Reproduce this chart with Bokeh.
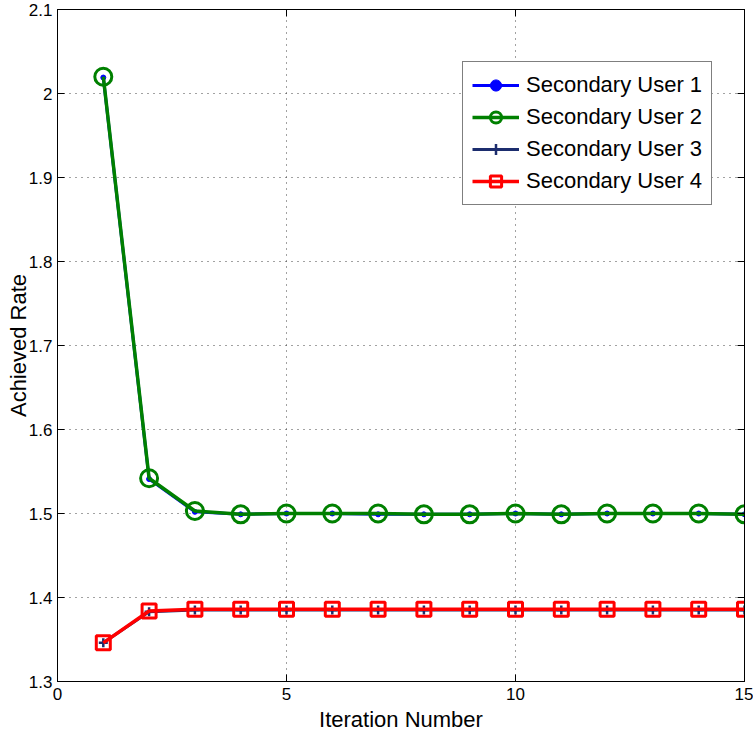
from bokeh.plotting import figure
from bokeh.models import FixedTicker, LinearAxis, Legend, LegendItem
from bokeh.embed import file_html
from bokeh.resources import INLINE

iterations = list(range(1, 16))
user1 = [2.019, 1.541, 1.502, 1.499, 1.500, 1.500, 1.499, 1.499, 1.499, 1.500, 1.499, 1.500, 1.500, 1.500, 1.499]
user2 = [2.020, 1.542, 1.503, 1.499, 1.500, 1.500, 1.500, 1.499, 1.499, 1.500, 1.499, 1.500, 1.500, 1.500, 1.499]
user3 = [1.346, 1.383, 1.385, 1.385, 1.385, 1.385, 1.385, 1.385, 1.385, 1.385, 1.385, 1.385, 1.385, 1.385, 1.385]
user4 = [1.346, 1.384, 1.386, 1.386, 1.386, 1.386, 1.386, 1.386, 1.386, 1.386, 1.386, 1.386, 1.386, 1.386, 1.386]
series_names = ["Secondary User 1", "Secondary User 2", "Secondary User 3", "Secondary User 4"]
x_ticks = [0, 5, 10, 15]
x_tick_labels = ["0", "5", "10", "15"]
y_ticks = [1.3, 1.4, 1.5, 1.6, 1.7, 1.8, 1.9, 2.0, 2.1]
y_tick_labels = ["1.3", "1.4", "1.5", "1.6", "1.7", "1.8", "1.9", "2", "2.1"]

FONT = "Liberation Sans"

p = figure(width=753, height=735, x_range=(0, 15), y_range=(1.3, 2.1),
           output_backend="svg", toolbar_location=None,
           min_border_left=57, min_border_right=9, min_border_top=9, min_border_bottom=54)
p.outline_line_color = "black"
p.outline_line_width = 1
p.background_fill_color = "white"
p.border_fill_color = "white"

for ax, ticks, labels in ((p.xaxis[0], x_ticks, x_tick_labels), (p.yaxis[0], y_ticks, y_tick_labels)):
    ax.ticker = FixedTicker(ticks=ticks)
    ax.major_label_overrides = {t: l for t, l in zip(ticks, labels)}
    ax.major_tick_in = 7
    ax.major_tick_out = 0
    ax.minor_tick_in = 0
    ax.minor_tick_out = 0
    ax.axis_line_color = "black"
    ax.major_tick_line_color = "black"
    ax.major_label_text_font = FONT
    ax.major_label_text_font_size = "17px"
    ax.major_label_text_color = "black"
    ax.axis_label_text_font = FONT
    ax.axis_label_text_font_size = "22px"
    ax.axis_label_text_font_style = "normal"
    ax.axis_label_text_color = "black"

p.xaxis.axis_label = "Iteration Number"
p.yaxis.axis_label = "Achieved Rate"
p.xaxis.major_label_standoff = 6
p.xaxis.axis_label_standoff = 4
p.yaxis.major_label_standoff = 5
p.yaxis.axis_label_standoff = -5

# box ticks on right and top
for loc, ticks in (("right", y_ticks), ("above", x_ticks)):
    a = LinearAxis(ticker=FixedTicker(ticks=ticks), major_tick_in=7, major_tick_out=0,
                   minor_tick_in=0, minor_tick_out=0, major_label_text_font_size="0px",
                   major_label_standoff=0, axis_line_color="black")
    a.major_label_overrides = {t: "" for t in ticks}
    p.add_layout(a, loc)

p.xgrid.ticker = FixedTicker(ticks=x_ticks)
p.ygrid.ticker = FixedTicker(ticks=y_ticks)
for g in (p.xgrid[0], p.ygrid[0]):
    g.grid_line_color = "#444444"
    g.grid_line_dash = "1 5"
    g.grid_line_width = 1

blue = "#0000ff"
green = "#008000"
navy = "#1c2d6e"
red = "#ff0000"

l1 = p.line(iterations, user1, line_color=blue, line_width=3)
m1 = p.scatter(iterations, user1, marker="circle", size=5, fill_color=blue, line_color=blue)
l2 = p.line(iterations, user2, line_color=green, line_width=3.5)
m2 = p.scatter(iterations, user2, marker="circle", size=17, fill_color=None, line_color=green, line_width=3)
l3 = p.line(iterations, user3, line_color=navy, line_width=3)
m3 = p.scatter(iterations, user3, marker="cross", size=9, line_color=navy, line_width=2.5)
l4 = p.line(iterations, user4, line_color=red, line_width=3.5)
m4 = p.scatter(iterations, user4, marker="square", size=14, fill_color=None, line_color=red, line_width=3)

legend = Legend(items=[
    LegendItem(label=series_names[0], renderers=[l1, m1]),
    LegendItem(label=series_names[1], renderers=[l2, m2]),
    LegendItem(label=series_names[2], renderers=[l3, m3]),
    LegendItem(label=series_names[3], renderers=[l4, m4]),
], location=(405, 476))
legend.border_line_color = "black"
legend.border_line_width = 1
legend.background_fill_color = "white"
legend.background_fill_alpha = 1
legend.label_text_font = FONT
legend.label_text_font_size = "22px"
legend.label_text_color = "black"
legend.glyph_width = 47
legend.glyph_height = 28
legend.label_height = 28
legend.label_standoff = 7
legend.spacing = 4
legend.padding = 9
legend.margin = 0
p.add_layout(legend, "center")

open("out.html", "w").write(file_html(p, INLINE))
